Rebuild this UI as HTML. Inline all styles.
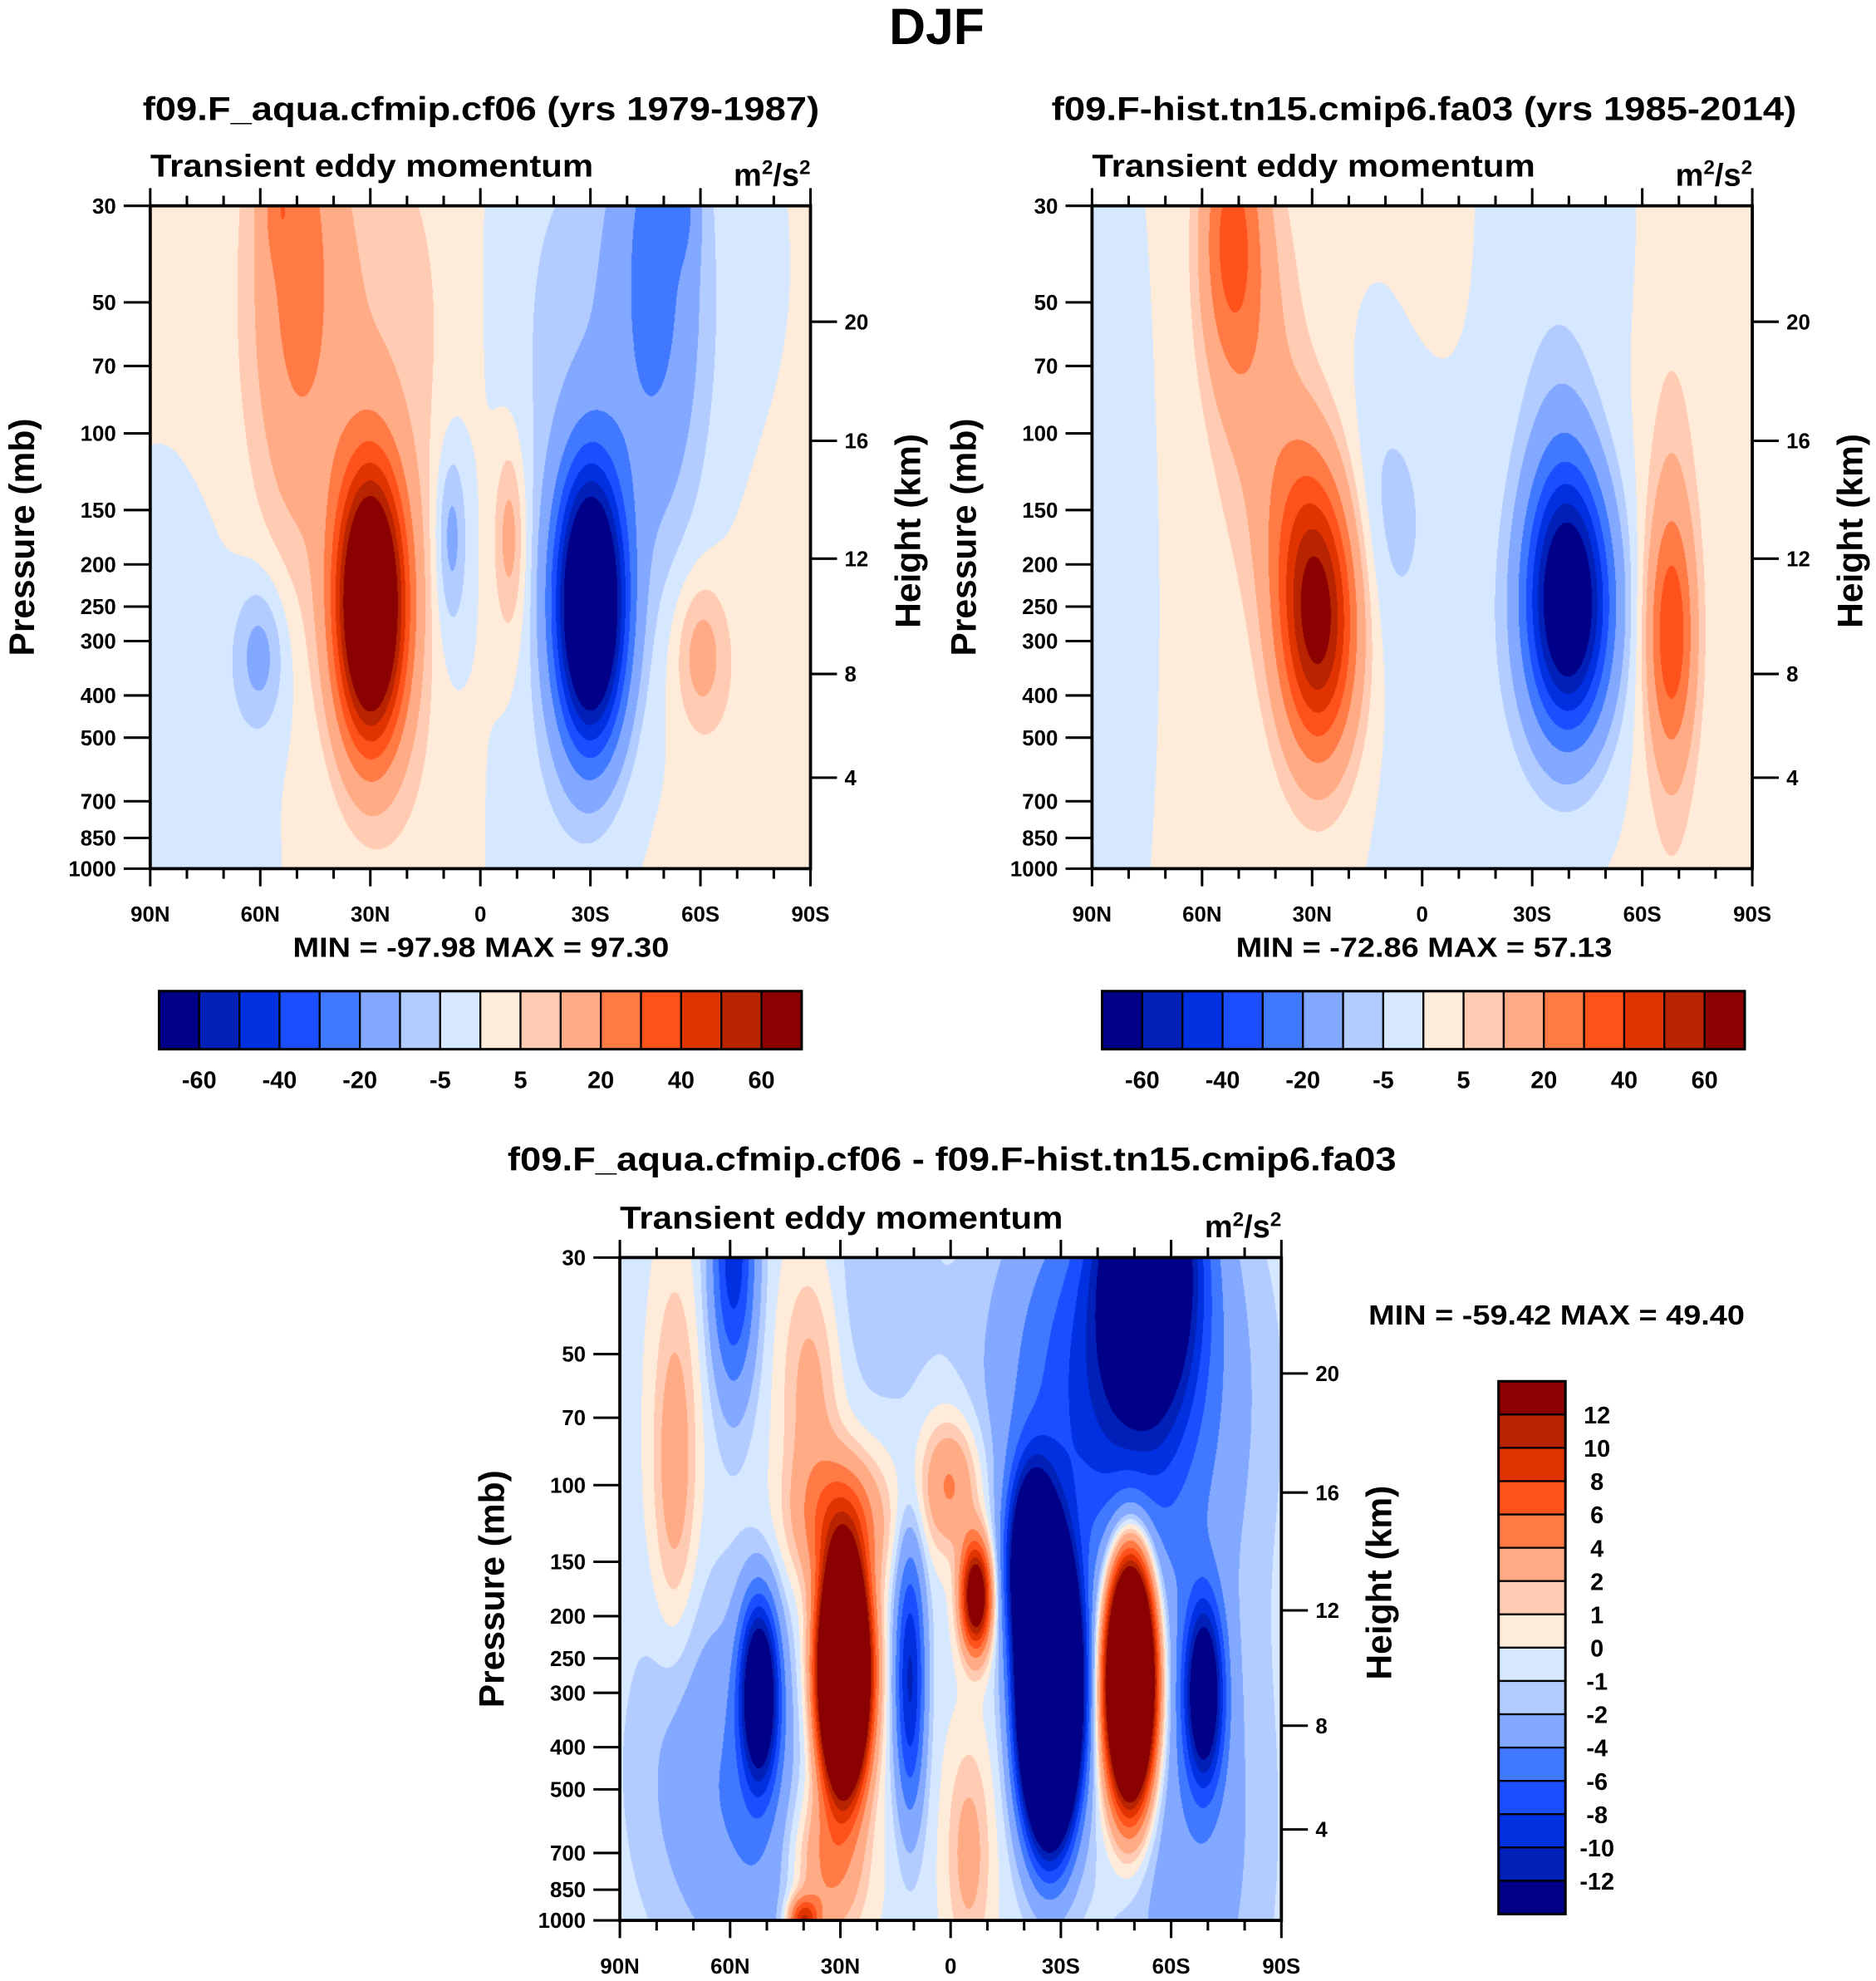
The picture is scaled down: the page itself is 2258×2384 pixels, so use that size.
<!DOCTYPE html>
<html><head><meta charset="utf-8">
<style>
html,body{margin:0;padding:0;background:#fff;}
#root{position:relative;width:2258px;height:2384px;overflow:hidden;background:#fff;}
canvas{position:absolute;}
svg{position:absolute;left:0;top:0;}
text{font-family:"Liberation Sans",Arial,sans-serif;font-weight:bold;fill:#000;}
</style></head>
<body>
<div id="root">
<canvas id="c1"></canvas>
<canvas id="c2"></canvas>
<canvas id="c3"></canvas>
<svg id="s" width="2258" height="2384" viewBox="0 0 1486 1569" preserveAspectRatio="none"></svg>
</div>
<script>
// ---------- data ----------
const colors = ["#000088","#0020b8","#0030e0","#1a4eff","#4078ff","#82a8ff","#b3ccff","#d6e8ff","#ffebd9","#ffcbb3","#ffab85","#ff7a45","#ff511a","#e03300","#b82300","#8b0000"];
const levelsAbs = [-60,-50,-40,-30,-20,-10,-5,0,5,10,20,30,40,50,60];
const levelsDiff = [-12,-10,-8,-6,-4,-2,-1,0,1,2,4,6,8,10,12];
const absTickLabels = ["-60","-40","-20","-5","5","20","40","60"];
const diffTickLabels = ["12","10","8","6","4","2","1","0","-1","-2","-4","-6","-8","-10","-12"];
const latTicks = [90,60,30,0,-30,-60,-90];
const latTickLabels = ["90N","60N","30N","0","30S","60S","90S"];
const pTicks = [30,50,70,100,150,200,250,300,400,500,700,850,1000];
const hTicks = [4,8,12,16,20];
const hTickP = [618,357,194,104,55.4];

// blob components: lat, pressure(mb), lat width, log10-p width, amplitude
const p1Lat  = [30,-30,50,55,40,-48,-55,-40,60,-60,8,-8,8,-8,78,-78,15,-15];
const p1P    = [250,250,35,30,60,35,30,60,320,320,170,170,200,200,500,500,300,300];
const p1DLat = [9,9,11,4,25,11,4,25,7,7,4,4,6,6,18,18,15,15];
const p1DLp  = [0.3,0.3,0.6,0.12,0.55,0.6,0.12,0.55,0.17,0.17,0.2,0.2,0.35,0.35,0.55,0.55,1.5,1.5];
const p1Amp  = [110,-110,18,10,9,-18,-10,-9,-13,13,-11,11,-4,4,-3,3,3,-3];

const p2Lat  = [28,34,52,45,-40,-38,-68,-68,10,-10,-35,90,-5];
const p2P    = [270,170,35,70,250,150,290,250,150,400,40,200,40];
const p2DLat = [10,10,8,12,11,10,6,7,12,25,20,14,10];
const p2DLp  = [0.3,0.3,0.3,0.45,0.28,0.35,0.25,0.55,0.3,0.8,0.4,1.0,0.3];
const p2Amp  = [62,15,30,12,-78,-12,27,12,-6,-3,-2.5,-3,2];

const p3Lat  = [29,-27,-22,-49,52,-69,-7,11,-54,-45,59,75,38,20,40,50,-65,34,-5,30,65,0];
const p3P    = [270,300,150,280,300,300,180,280,30,60,30,90,60,35,1000,800,600,750,700,120,450,100];
const p3DLat = [6,7,6,6,5,5,4,4,12,28,6,6,8,15,4,15,20,10,6,12,20,8];
const p3DLp  = [0.23,0.28,0.2,0.25,0.2,0.2,0.12,0.3,0.3,0.45,0.3,0.4,0.3,0.3,0.05,0.4,0.6,0.18,0.25,0.15,0.4,0.15];
const p3Amp  = [55,-65,-20,50,-18,-16,18,-10,-22,-9,-9,3.5,3,-1.5,10,-2,-3,5,3,6,-3,5];

// ---------- geometry (display units) ----------
const SX = 2258/1486, SY = 2384/1569;
const panels = [
 {id:'c1',x:119,y:163,w:523,h:525,lat:p1Lat,p:p1P,dl:p1DLat,dp:p1DLp,a:p1Amp,lev:levelsAbs,base:0.3,name:'panel-1'},
 {id:'c2',x:865,y:163,w:523,h:525,lat:p2Lat,p:p2P,dl:p2DLat,dp:p2DLp,a:p2Amp,lev:levelsAbs,base:0.5,name:'panel-2'},
 {id:'c3',x:491,y:996,w:524,h:525,lat:p3Lat,p:p3P,dl:p3DLat,dp:p3DLp,a:p3Amp,lev:levelsDiff,base:-0.3,name:'panel-3'}
];
function xOf(P,lat){return P.x + (90-lat)/180*P.w;}
function yOf(P,p){return P.y + Math.log10(p/30)/Math.log10(1000/30)*P.h;}
function hexRGB(h){return [parseInt(h.slice(1,3),16),parseInt(h.slice(3,5),16),parseInt(h.slice(5,7),16)];}
const rgb = colors.map(hexRGB);

function field(P,lat,p){
  let v=P.base; const lp=Math.log10(p);
  for(let i=0;i<P.lat.length;i++){
    const dx=(lat-P.lat[i])/P.dl[i], dy=(lp-Math.log10(P.p[i]))/P.dp[i];
    v+=P.a[i]*Math.exp(-(dx*dx+dy*dy));
  }
  return v;
}
panels.forEach(P=>{
  const c=document.getElementById(P.id);
  const W=Math.round(P.w*SX), H=Math.round(P.h*SY);
  c.width=W;c.height=H;
  c.style.left=(P.x*SX)+'px';c.style.top=(P.y*SY)+'px';
  const ctx=c.getContext('2d');const img=ctx.createImageData(W,H);
  for(let j=0;j<H;j++){
    const p=30*Math.pow(1000/30,(j+0.5)/H);
    for(let i=0;i<W;i++){
      const lat=90-180*(i+0.5)/W;
      const v=field(P,lat,p);
      let k=0;while(k<P.lev.length&&v>P.lev[k])k++;
      const col=rgb[k];const o=(j*W+i)*4;
      img.data[o]=col[0];img.data[o+1]=col[1];img.data[o+2]=col[2];img.data[o+3]=255;
    }
  }
  ctx.putImageData(img,0,0);
});

// ---------- svg ----------
const NS='http://www.w3.org/2000/svg';const svg=document.getElementById('s');
function el(tag,attrs,parent){const e=document.createElementNS(NS,tag);for(const k in attrs)e.setAttribute(k,attrs[k]);(parent||svg).appendChild(e);return e;}
function txt(s,x,y,size,anchor,parent,extra){const t=el('text',Object.assign({x:x,y:y,'font-size':size,'text-anchor':anchor||'start'},extra||{}),parent);t.textContent=s;return t;}

let t=txt('DJF',742,35,40,'middle');


const titles=[['f09.F_aqua.cfmip.cf06 (yrs 1979-1987)',381,95,536],['f09.F-hist.tn15.cmip6.fa03 (yrs 1985-2014)',1128,95,590],['f09.F_aqua.cfmip.cf06 - f09.F-hist.tn15.cmip6.fa03',754,927,704]];
const minmax=[['MIN = -97.98  MAX =  97.30',381,758,'middle',298],['MIN = -72.86  MAX =  57.13',1128,758,'middle',298],['MIN = -59.42  MAX =  49.40',1084,1049,'start',298]];

panels.forEach((P,pi)=>{
  const g=el('g',{});
  
  
  let tt=txt(titles[pi][0],titles[pi][1],titles[pi][2],26,'middle',g,{textLength:titles[pi][3],lengthAdjust:'spacingAndGlyphs'});
  
  tt=txt('Transient eddy momentum',P.x,P.y-23,25,'start',g,{textLength:351,lengthAdjust:'spacingAndGlyphs'});
  
  const u=el('text',{x:P.x+P.w,y:P.y-16,'font-size':25,'text-anchor':'end'},g);
  
  u.innerHTML='m<tspan dy="-9" font-size="16">2</tspan><tspan dy="9">/s</tspan><tspan dy="-9" font-size="16">2</tspan>';
  el('rect',{x:P.x,y:P.y,width:P.w,height:P.h,fill:'none',stroke:'#000','stroke-width':2.5},g);
  for(let lat=90;lat>=-90;lat-=10){
    const x=xOf(P,lat);const major=lat%30===0;const L=major?14:8;
    el('line',{x1:x,x2:x,y1:P.y,y2:P.y-L,stroke:'#000','stroke-width':2},g);
    el('line',{x1:x,x2:x,y1:P.y+P.h,y2:P.y+P.h+L,stroke:'#000','stroke-width':2},g);
  }
  latTicks.forEach((lat,i)=>{const l=txt(latTickLabels[i],xOf(P,lat),P.y+P.h+42,17,'middle',g);
    });
  pTicks.forEach(p=>{const y=yOf(P,p);
    el('line',{x1:P.x-21,x2:P.x,y1:y,y2:y,stroke:'#000','stroke-width':2},g);
    const l=txt(String(p),P.x-27,y+6,17,'end',g);
    });
  hTicks.forEach((h,i)=>{const y=yOf(P,hTickP[i]);
    el('line',{x1:P.x+P.w,x2:P.x+P.w+21,y1:y,y2:y,stroke:'#000','stroke-width':2},g);
    const l=txt(String(h),P.x+P.w+27,y+6,17,'start',g);
    });
  const cy=P.y+P.h/2;
  let a=txt('Pressure (mb)',0,0,28,'middle',g,{transform:'translate('+(P.x-92)+','+(cy)+') rotate(-90)'});
  
  a=txt('Height (km)',0,0,28,'middle',g,{transform:'translate('+(P.x+P.w+87)+','+(cy-5)+') rotate(-90)'});
  
  const mm=txt(minmax[pi][0],minmax[pi][1],minmax[pi][2],22,minmax[pi][3],g,{textLength:minmax[pi][4],lengthAdjust:'spacingAndGlyphs'});
  
});

[[126,785],[873,785]].forEach((cb,ci)=>{
  const g=el('g',{});
  
  
  const w=509/16,h=46;
  colors.forEach((c,k)=>{const r=el('rect',{x:cb[0]+k*w,y:cb[1],width:w,height:h,fill:c,stroke:'#000','stroke-width':1.5},g);
    });
  el('rect',{x:cb[0],y:cb[1],width:509,height:h,fill:'none',stroke:'#000','stroke-width':2},g);
  absTickLabels.forEach((s,i)=>{const l=txt(s,cb[0]+(2*i+1)*w,cb[1]+77,19,'middle',g);
    });
});
(function(){
  const g=el('g',{});
  
  
  const x=1187,y=1094,w=53,h=422/16;
  colors.slice().reverse().forEach((c,k)=>{const r=el('rect',{x:x,y:y+k*h,width:w,height:h,fill:c,stroke:'#000','stroke-width':1.5},g);
    });
  el('rect',{x:x,y:y,width:w,height:422,fill:'none',stroke:'#000','stroke-width':2},g);
  diffTickLabels.forEach((s,i)=>{const l=txt(s,1265,y+(i+1)*h+7,19,'middle',g);
    });
})();
</script>
</body></html>
